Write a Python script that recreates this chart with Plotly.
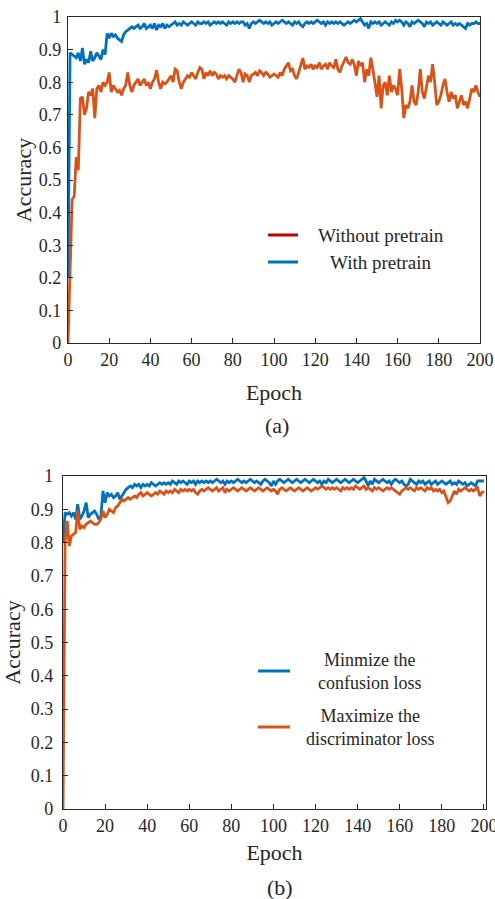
import plotly.graph_objects as go

# ---------------- data ----------------
epochs = list(range(0, 201))

# (a) Without pretrain / With pretrain
acc_without_pretrain = [
    0.00, 0.22, 0.44, 0.45, 0.57, 0.53, 0.75, 0.755, 0.70, 0.72,
    0.77, 0.76, 0.78, 0.69, 0.78, 0.79, 0.77, 0.80, 0.79, 0.80,
    0.83, 0.77, 0.79, 0.78, 0.77, 0.775, 0.76, 0.78, 0.79, 0.83,
    0.79, 0.77, 0.79, 0.80, 0.81, 0.79, 0.80, 0.81, 0.79, 0.80,
    0.78, 0.80, 0.81, 0.837, 0.80, 0.78, 0.80, 0.795, 0.80, 0.81,
    0.82, 0.80, 0.84, 0.835, 0.80, 0.78, 0.80, 0.81, 0.82, 0.815,
    0.83, 0.82, 0.81, 0.83, 0.845, 0.84, 0.81, 0.83, 0.82, 0.835,
    0.82, 0.83, 0.825, 0.81, 0.82, 0.815, 0.82, 0.81, 0.82, 0.815,
    0.81, 0.80, 0.82, 0.84, 0.83, 0.80, 0.825, 0.82, 0.80, 0.82,
    0.825, 0.83, 0.82, 0.835, 0.83, 0.82, 0.83, 0.825, 0.815, 0.82,
    0.825, 0.82, 0.815, 0.83, 0.82, 0.84, 0.85, 0.86, 0.835, 0.84,
    0.82, 0.81, 0.83, 0.85, 0.874, 0.84, 0.85, 0.845, 0.855, 0.84,
    0.85, 0.845, 0.86, 0.84, 0.85, 0.855, 0.84, 0.86, 0.85, 0.845,
    0.87, 0.84, 0.83, 0.85, 0.865, 0.877, 0.86, 0.855, 0.87, 0.853,
    0.82, 0.865, 0.85, 0.86, 0.80, 0.84, 0.82, 0.875, 0.84, 0.80,
    0.755, 0.82, 0.72, 0.79, 0.80, 0.76, 0.82, 0.77, 0.79, 0.78,
    0.76, 0.84, 0.78, 0.69, 0.73, 0.72, 0.74, 0.79, 0.74, 0.73,
    0.77, 0.84, 0.77, 0.75, 0.78, 0.82, 0.80, 0.855, 0.80, 0.73,
    0.74, 0.76, 0.79, 0.81, 0.77, 0.74, 0.77, 0.75, 0.76, 0.72,
    0.74, 0.76, 0.73, 0.74, 0.72, 0.75, 0.78, 0.77, 0.79, 0.77,
    0.755,
]

acc_with_pretrain = [
    0.20, 0.89, 0.885, 0.88, 0.875, 0.89, 0.865, 0.905, 0.855, 0.87,
    0.86, 0.895, 0.865, 0.875, 0.89, 0.88, 0.87, 0.90, 0.885, 0.95,
    0.935, 0.95, 0.94, 0.945, 0.935, 0.93, 0.925, 0.945, 0.955, 0.96,
    0.965, 0.97, 0.965, 0.97, 0.975, 0.965, 0.97, 0.98, 0.965, 0.97,
    0.975, 0.965, 0.98, 0.96, 0.975, 0.97, 0.98, 0.965, 0.975, 0.97,
    0.975, 0.98, 0.985, 0.975, 0.98, 0.975, 0.985, 0.98, 0.975, 0.98,
    0.985, 0.98, 0.975, 0.985, 0.98, 0.98, 0.985, 0.98, 0.985, 0.975,
    0.98, 0.985, 0.98, 0.985, 0.98, 0.985, 0.98, 0.975, 0.985, 0.98,
    0.985, 0.98, 0.985, 0.98, 0.985, 0.985, 0.975, 0.98, 0.965, 0.98,
    0.985, 0.98, 0.985, 0.99, 0.985, 0.98, 0.985, 0.98, 0.985, 0.975,
    0.98, 0.985, 0.98, 0.985, 0.99, 0.985, 0.98, 0.985, 0.98, 0.975,
    0.985, 0.98, 0.985, 0.975, 0.97, 0.98, 0.985, 0.98, 0.985, 0.98,
    0.985, 0.99, 0.985, 0.98, 0.985, 0.975, 0.985, 0.98, 0.985, 0.98,
    0.985, 0.98, 0.985, 0.98, 0.975, 0.98, 0.985, 0.98, 0.985, 0.99,
    0.985, 0.99, 0.995, 0.985, 0.975, 0.98, 0.965, 0.985, 0.98, 0.985,
    0.98, 0.985, 0.975, 0.98, 0.985, 0.98, 0.975, 0.985, 0.98, 0.99,
    0.985, 0.99, 0.985, 0.975, 0.985, 0.98, 0.97, 0.985, 0.98, 0.985,
    0.99, 0.985, 0.98, 0.97, 0.985, 0.98, 0.985, 0.975, 0.98, 0.985,
    0.98, 0.975, 0.985, 0.98, 0.975, 0.98, 0.985, 0.975, 0.98, 0.975,
    0.98, 0.975, 0.97, 0.965, 0.98, 0.975, 0.98, 0.98, 0.985, 0.98,
    0.98,
]

# (b) Minimize confusion loss / Maximize discriminator loss
acc_confusion_loss = [
    0.80, 0.89, 0.885, 0.89, 0.88, 0.89, 0.87, 0.915, 0.87, 0.88,
    0.895, 0.92, 0.875, 0.885, 0.89, 0.895, 0.885, 0.87, 0.88, 0.955,
    0.92, 0.95, 0.94, 0.945, 0.935, 0.94, 0.95, 0.93, 0.94, 0.95,
    0.96, 0.965, 0.97, 0.965, 0.975, 0.97, 0.975, 0.965, 0.975, 0.97,
    0.975, 0.97, 0.98, 0.975, 0.97, 0.975, 0.98, 0.975, 0.98, 0.975,
    0.98, 0.975, 0.985, 0.98, 0.975, 0.985, 0.98, 0.985, 0.98, 0.975,
    0.985, 0.98, 0.985, 0.975, 0.985, 0.98, 0.985, 0.98, 0.985, 0.98,
    0.985, 0.98, 0.985, 0.99, 0.985, 0.98, 0.985, 0.975, 0.985, 0.98,
    0.985, 0.98, 0.985, 0.99, 0.985, 0.98, 0.985, 0.98, 0.985, 0.99,
    0.985, 0.98, 0.985, 0.98, 0.975, 0.985, 0.99, 0.985, 0.98, 0.97,
    0.985, 0.975, 0.985, 0.99, 0.985, 0.98, 0.985, 0.99, 0.985, 0.98,
    0.985, 0.99, 0.985, 0.98, 0.985, 0.99, 0.985, 0.98, 0.985, 0.99,
    0.985, 0.98, 0.985, 0.975, 0.985, 0.98, 0.99, 0.985, 0.98, 0.985,
    0.99, 0.985, 0.98, 0.985, 0.99, 0.985, 0.98, 0.985, 0.99, 0.985,
    0.98, 0.985, 0.99, 0.995, 0.985, 0.97, 0.985, 0.975, 0.99, 0.985,
    0.98, 0.985, 0.99, 0.985, 0.98, 0.985, 0.975, 0.985, 0.99, 0.985,
    0.98, 0.985, 0.975, 0.97, 0.975, 0.99, 0.985, 0.98, 0.975, 0.985,
    0.98, 0.985, 0.975, 0.98, 0.985, 0.975, 0.98, 0.985, 0.975, 0.98,
    0.985, 0.98, 0.975, 0.98, 0.985, 0.975, 0.98, 0.975, 0.985, 0.98,
    0.975, 0.98, 0.97, 0.975, 0.98, 0.975, 0.97, 0.985, 0.985, 0.985,
    0.985,
]

acc_discriminator_loss = [
    0.00, 0.80, 0.865, 0.79, 0.82, 0.825, 0.83, 0.895, 0.84, 0.85,
    0.845, 0.855, 0.86, 0.865, 0.86, 0.855, 0.855, 0.86, 0.87, 0.895,
    0.875, 0.885, 0.90, 0.895, 0.89, 0.905, 0.91, 0.92, 0.93, 0.925,
    0.93, 0.935, 0.93, 0.935, 0.94, 0.935, 0.945, 0.95, 0.94, 0.945,
    0.95, 0.945, 0.94, 0.945, 0.95, 0.945, 0.955, 0.95, 0.945, 0.955,
    0.95, 0.955, 0.95, 0.96, 0.955, 0.95, 0.96, 0.955, 0.96, 0.955,
    0.96, 0.955, 0.96, 0.95, 0.945, 0.955, 0.96, 0.955, 0.96, 0.965,
    0.96, 0.955, 0.96, 0.965, 0.955, 0.96, 0.965, 0.95, 0.96, 0.955,
    0.96, 0.965, 0.96, 0.955, 0.96, 0.965, 0.96, 0.955, 0.96, 0.965,
    0.96, 0.955, 0.96, 0.965, 0.96, 0.955, 0.96, 0.965, 0.96, 0.955,
    0.96, 0.955, 0.945, 0.96, 0.965, 0.96, 0.955, 0.96, 0.965, 0.96,
    0.955, 0.96, 0.965, 0.96, 0.955, 0.96, 0.965, 0.96, 0.955, 0.96,
    0.965, 0.96, 0.965, 0.97, 0.965, 0.96, 0.965, 0.96, 0.965, 0.96,
    0.965, 0.96, 0.955, 0.965, 0.96, 0.965, 0.96, 0.965, 0.96, 0.97,
    0.965, 0.96, 0.965, 0.97, 0.96, 0.965, 0.96, 0.955, 0.965, 0.96,
    0.965, 0.96, 0.955, 0.96, 0.965, 0.96, 0.965, 0.96, 0.955, 0.95,
    0.945, 0.955, 0.96, 0.965, 0.96, 0.965, 0.96, 0.955, 0.965, 0.96,
    0.965, 0.96, 0.955, 0.965, 0.96, 0.965, 0.955, 0.96, 0.955, 0.96,
    0.95, 0.955, 0.935, 0.92, 0.925, 0.94, 0.955, 0.945, 0.96, 0.955,
    0.96, 0.965, 0.96, 0.955, 0.96, 0.955, 0.96, 0.965, 0.94, 0.95,
    0.955,
]

y_tick_vals = [0, 0.1, 0.2, 0.3, 0.4, 0.5, 0.6, 0.7, 0.8, 0.9, 1.0]
y_tick_text = ["0", "0.1", "0.2", "0.3", "0.4", "0.5", "0.6", "0.7", "0.8", "0.9", "1"]
x_tick_vals = [0, 20, 40, 60, 80, 100, 120, 140, 160, 180, 200]

legend_a = ["Without pretrain", "With pretrain"]
legend_b = ["Minmize the<br>confusion loss", "Maximize the<br>discriminator loss"]
panel_labels = ["(a)", "(b)"]

# ---------------- style ----------------
W, H = 495, 899
BLUE = "#0072BD"
ORANGE = "#D95319"
RED_LEGEND = "#C00000"
TXT = "#262626"
FONT = "Liberation Serif, Times New Roman, DejaVu Serif, serif"


def px(x):
    return x / W


def py(y):
    return 1 - y / H


fig = go.Figure()

fig.add_trace(go.Scatter(x=epochs, y=acc_without_pretrain, mode="lines",
                         line=dict(color=ORANGE, width=2.8), xaxis="x", yaxis="y",
                         name=legend_a[0], showlegend=False))
fig.add_trace(go.Scatter(x=epochs, y=acc_with_pretrain, mode="lines",
                         line=dict(color=BLUE, width=2.8), xaxis="x", yaxis="y",
                         name=legend_a[1], showlegend=False))
fig.add_trace(go.Scatter(x=epochs, y=acc_confusion_loss, mode="lines",
                         line=dict(color=BLUE, width=2.8), xaxis="x2", yaxis="y2",
                         name="Minmize the confusion loss", showlegend=False))
fig.add_trace(go.Scatter(x=epochs, y=acc_discriminator_loss, mode="lines",
                         line=dict(color=ORANGE, width=2.8), xaxis="x2", yaxis="y2",
                         name="Maximize the discriminator loss", showlegend=False))

axis_common = dict(
    showgrid=False, zeroline=False, showline=True, linecolor=TXT, linewidth=1.3,
    mirror=True, ticks="inside", ticklen=5, tickwidth=1, tickcolor=TXT,
    automargin=False, ticklabeloverflow="allow",
    tickfont=dict(family=FONT, size=18, color=TXT),
)
title_font = dict(family=FONT, size=22, color=TXT)

fig.update_layout(
    width=W, height=H,
    margin=dict(l=0, r=0, t=0, b=0, autoexpand=False),
    paper_bgcolor="white", plot_bgcolor="white",
    font=dict(family=FONT, color=TXT),
    showlegend=False,
    xaxis=dict(axis_common, domain=[px(68), px(480)], range=[0, 200], anchor="y",
               tickvals=x_tick_vals,
               title=dict(text="Epoch", font=title_font, standoff=15)),
    yaxis=dict(axis_common, domain=[py(343), py(17)], range=[0, 1], anchor="x",
               tickvals=y_tick_vals, ticktext=y_tick_text, ticklabelstandoff=2,
               title=dict(text="Accuracy", font=title_font, standoff=1)),
    xaxis2=dict(axis_common, domain=[px(63), px(486)], range=[0, 201], anchor="y2",
                tickvals=x_tick_vals,
                title=dict(text="Epoch", font=title_font, standoff=9)),
    yaxis2=dict(axis_common, domain=[py(809), py(476)], range=[0, 1], anchor="x2",
                tickvals=y_tick_vals, ticktext=y_tick_text, ticklabelstandoff=5,
                title=dict(text="Accuracy", font=title_font, standoff=5)),
)

# legend boxes drawn as line swatches + centred text
shapes = []
annotations = []
legend_a_y = [235, 262]
legend_a_col = [RED_LEGEND, BLUE]
for lab, yy, col in zip(legend_a, legend_a_y, legend_a_col):
    shapes.append(dict(type="line", xref="paper", yref="paper", x0=px(268), x1=px(298),
                       y0=py(yy), y1=py(yy), line=dict(color=col, width=3)))
    annotations.append(dict(text=lab, xref="paper", yref="paper", x=px(381), y=py(yy),
                            xanchor="center", yanchor="middle", showarrow=False,
                            font=dict(family=FONT, size=19, color=TXT)))

legend_b_y = [671, 727]
legend_b_col = [BLUE, ORANGE]
for lab, yy, col in zip(legend_b, legend_b_y, legend_b_col):
    shapes.append(dict(type="line", xref="paper", yref="paper", x0=px(258), x1=px(290),
                       y0=py(yy), y1=py(yy), line=dict(color=col, width=3)))
    annotations.append(dict(text=lab, xref="paper", yref="paper", x=px(370), y=py(yy),
                            xanchor="center", yanchor="middle", showarrow=False, align="center",
                            font=dict(family=FONT, size=18, color=TXT)))

for lab, xx, yy in zip(panel_labels, [277, 280], [425, 887]):
    annotations.append(dict(text=lab, xref="paper", yref="paper", x=px(xx), y=py(yy),
                            xanchor="center", yanchor="middle", showarrow=False,
                            font=dict(family=FONT, size=22, color=TXT)))

fig.update_layout(shapes=shapes, annotations=annotations)

fig.write_html(
    "out.html",
    config={"displayModeBar": False},
    post_script="document.body.style.margin='0px';document.body.style.overflow='hidden';",
)
